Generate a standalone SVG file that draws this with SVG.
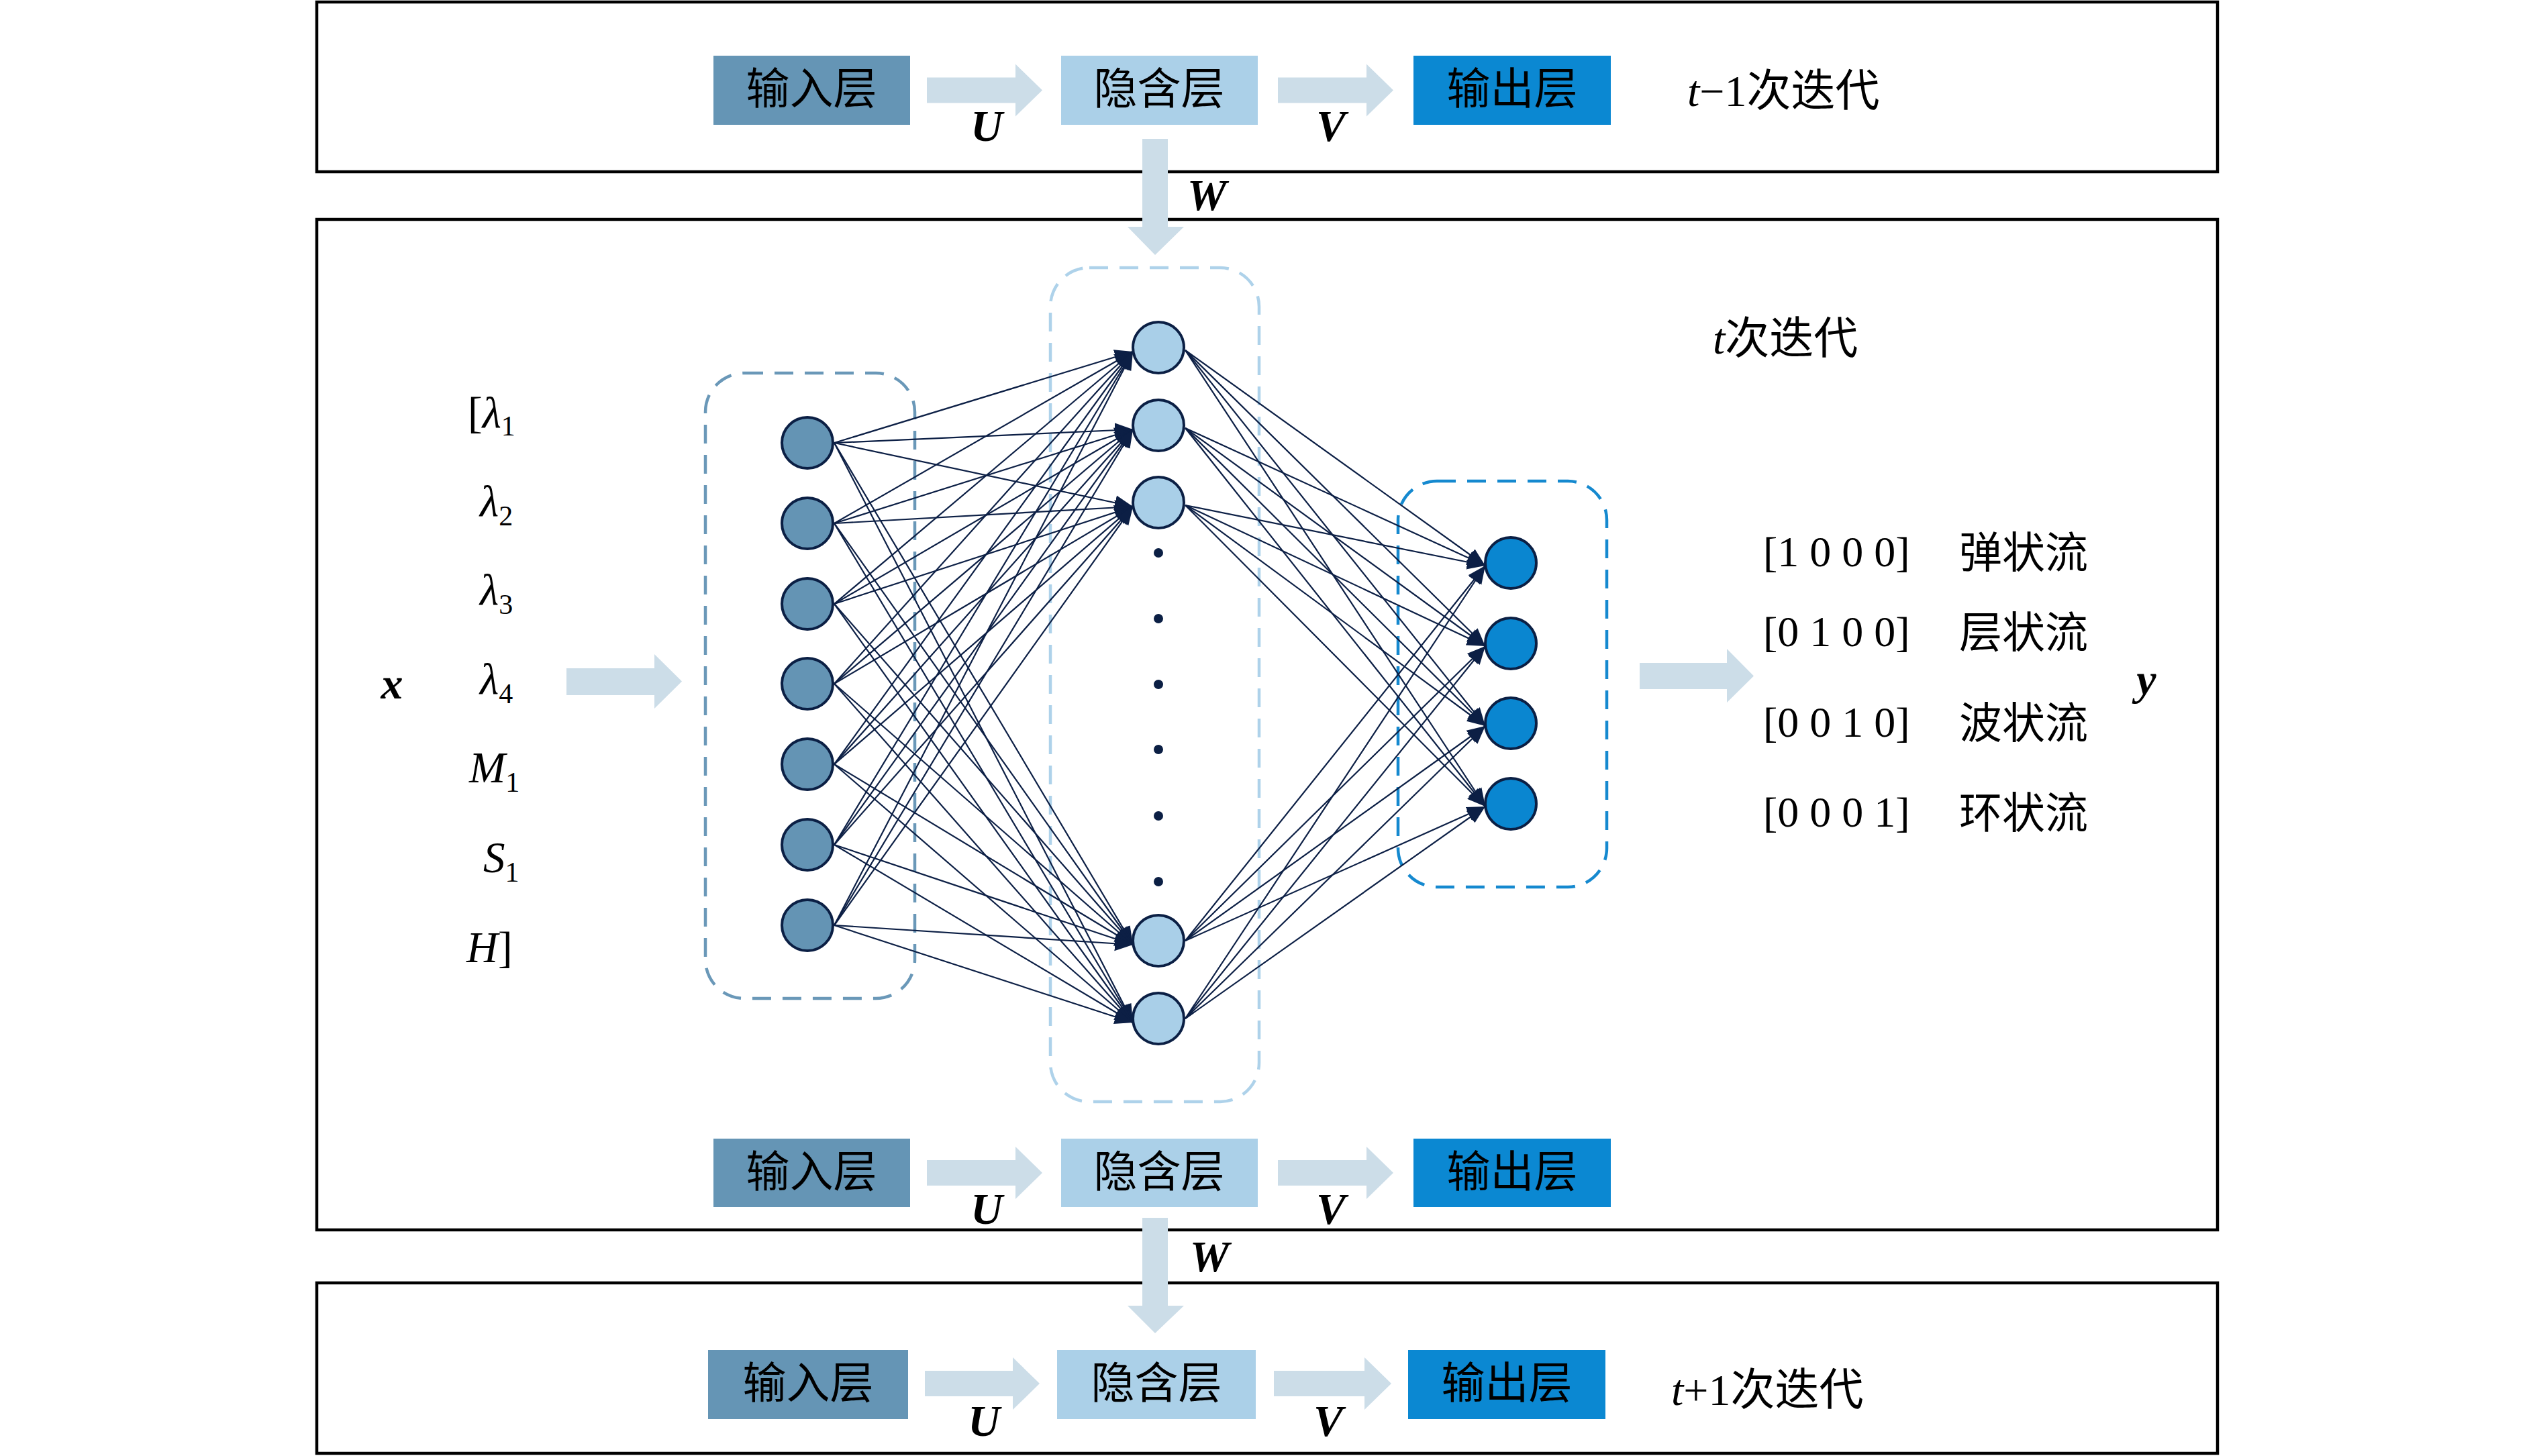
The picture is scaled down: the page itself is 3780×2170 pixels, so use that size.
<svg xmlns="http://www.w3.org/2000/svg" width="3780" height="2170" viewBox="0 0 3780 2170">
<defs>
<style>
.frame{fill:none;stroke:#000;stroke-width:4.5}
.lin{fill:#6595b5}
.lhid{fill:#abd0e8}
.lout{fill:#0b88d2}
.ltxt{font-family:"Liberation Serif","Noto Sans CJK SC",serif;font-size:65px;fill:#000;text-anchor:middle}
.blk{fill:#ccdde8}
.mat{font-family:"Liberation Serif",serif;font-size:66px;font-weight:bold;font-style:italic;fill:#000;text-anchor:middle}
.cap{font-family:"Liberation Serif","Noto Sans CJK SC",serif;font-size:66px;fill:#000}
.var{font-family:"Liberation Serif",serif;font-size:65px;font-style:italic;fill:#000}
.sub{font-style:normal;font-size:42px}
.cin{fill:#6494b4;stroke:#0b1f44;stroke-width:4}
.chid{fill:#a9cfe8;stroke:#0b1f44;stroke-width:4}
.cout{fill:#0a86d0;stroke:#0b1f44;stroke-width:4}
.dot{fill:#0b1f44}
.conn line{stroke:#0c1f45;stroke-width:2.2;marker-end:url(#ah)}
.dash{fill:none;stroke-width:4.5;stroke-dasharray:28 17}
.cls{font-family:"Liberation Serif","Noto Sans CJK SC",serif;font-size:64px;fill:#000}
</style>
<marker id="ah" markerUnits="userSpaceOnUse" markerWidth="28" markerHeight="24" viewBox="0 0 28 24" refX="27" refY="12" orient="auto">
<path d="M0,1 L27,12 L0,23 z" fill="#0c1f45"/>
</marker>
</defs>
<rect width="3780" height="2170" fill="#fff"/>

<!-- frames -->
<g id="frame-t-1"><rect class="frame" x="472" y="3" width="2832" height="253"/></g>
<g id="frame-t"><rect class="frame" x="472" y="327" width="2832" height="1506"/></g>
<g id="frame-t+1"><rect class="frame" x="472" y="1912" width="2832" height="254"/></g>

<!-- top row (t-1) -->
<g id="top-input"><rect class="lin" x="1063" y="83" width="293" height="103"/><text class="ltxt" x="1209" y="155">输入层</text></g>
<g id="top-hidden"><rect class="lhid" x="1581" y="83" width="293" height="103"/><text class="ltxt" x="1727" y="155">隐含层</text></g>
<g id="top-output"><rect class="lout" x="2106" y="83" width="294" height="103"/><text class="ltxt" x="2253" y="155">输出层</text></g>
<text class="cap" x="2514" y="158"><tspan font-style="italic">t</tspan>−1次迭代</text>

<!-- middle row (t) -->
<g id="mid-input"><rect class="lin" x="1063" y="1697" width="293" height="102"/><text class="ltxt" x="1209" y="1769">输入层</text></g>
<g id="mid-hidden"><rect class="lhid" x="1581" y="1697" width="293" height="102"/><text class="ltxt" x="1727" y="1769">隐含层</text></g>
<g id="mid-output"><rect class="lout" x="2106" y="1697" width="294" height="102"/><text class="ltxt" x="2253" y="1769">输出层</text></g>
<text class="cap" x="2552" y="527"><tspan font-style="italic">t</tspan>次迭代</text>

<!-- bottom row (t+1) -->
<g id="bot-input"><rect class="lin" x="1055" y="2012" width="298" height="103"/><text class="ltxt" x="1204" y="2084">输入层</text></g>
<g id="bot-hidden"><rect class="lhid" x="1575" y="2012" width="296" height="103"/><text class="ltxt" x="1723" y="2084">隐含层</text></g>
<g id="bot-output"><rect class="lout" x="2098" y="2012" width="294" height="103"/><text class="ltxt" x="2245" y="2084">输出层</text></g>
<text class="cap" x="2490" y="2094"><tspan font-style="italic">t</tspan>+1次迭代</text>

<!-- block arrows -->
<g id="block-arrows">
<polygon class="blk" points="1381,115.5 1513,115.5 1513,95.5 1553,134.5 1513,173.5 1513,153.5 1381,153.5"/>
<polygon class="blk" points="1904,115.5 2036,115.5 2036,95.5 2076,134.5 2036,173.5 2036,153.5 1904,153.5"/>
<polygon class="blk" points="1381,1729 1513,1729 1513,1709 1553,1748 1513,1787 1513,1767 1381,1767"/>
<polygon class="blk" points="1904,1729 2036,1729 2036,1709 2076,1748 2036,1787 2036,1767 1904,1767"/>
<polygon class="blk" points="1378,2043 1509,2043 1509,2023 1549,2062 1509,2101 1509,2081 1378,2081"/>
<polygon class="blk" points="1898,2043 2033,2043 2033,2023 2073,2062 2033,2101 2033,2081 1898,2081"/>
<polygon class="blk" points="1702,207 1740,207 1740,338 1764,338 1721,380 1680,338 1702,338"/>
<polygon class="blk" points="1702,1815 1740,1815 1740,1946 1764,1946 1721,1987 1680,1946 1702,1946"/>
<polygon class="blk" points="844,996 975,996 975,975 1016,1015.5 975,1056 975,1036 844,1036"/>
<polygon class="blk" points="2443,988 2573,988 2573,967 2613,1007.5 2573,1047 2573,1027 2443,1027"/>
</g>
<g id="matrix-labels">
<text class="mat" x="1470" y="210">U</text>
<text class="mat" x="1983" y="210">V</text>
<text class="mat" x="1798" y="313">W</text>
<text class="mat" x="1470" y="1824">U</text>
<text class="mat" x="1983" y="1824">V</text>
<text class="mat" x="1802" y="1895">W</text>
<text class="mat" x="1466" y="2140">U</text>
<text class="mat" x="1979" y="2140">V</text>
</g>

<!-- dashed layer groups -->
<rect class="dash" x="1051" y="556" width="312" height="932" rx="58" stroke="#6a98b8"/>
<rect class="dash" x="1565" y="399" width="311" height="1243" rx="58" stroke="#aed2ea"/>
<rect class="dash" x="2083" y="717" width="311" height="605" rx="58" stroke="#1589cf"/>

<!-- connectors -->
<g id="connectors" class="conn">
<line x1="1243" y1="660" x2="1688" y2="524"/><line x1="1243" y1="660" x2="1688" y2="640"/><line x1="1243" y1="660" x2="1688" y2="755"/><line x1="1243" y1="660" x2="1688" y2="1408"/><line x1="1243" y1="660" x2="1688" y2="1524"/>
<line x1="1243" y1="780" x2="1688" y2="524"/><line x1="1243" y1="780" x2="1688" y2="640"/><line x1="1243" y1="780" x2="1688" y2="755"/><line x1="1243" y1="780" x2="1688" y2="1408"/><line x1="1243" y1="780" x2="1688" y2="1524"/>
<line x1="1243" y1="900" x2="1688" y2="524"/><line x1="1243" y1="900" x2="1688" y2="640"/><line x1="1243" y1="900" x2="1688" y2="755"/><line x1="1243" y1="900" x2="1688" y2="1408"/><line x1="1243" y1="900" x2="1688" y2="1524"/>
<line x1="1243" y1="1019" x2="1688" y2="524"/><line x1="1243" y1="1019" x2="1688" y2="640"/><line x1="1243" y1="1019" x2="1688" y2="755"/><line x1="1243" y1="1019" x2="1688" y2="1408"/><line x1="1243" y1="1019" x2="1688" y2="1524"/>
<line x1="1243" y1="1139" x2="1688" y2="524"/><line x1="1243" y1="1139" x2="1688" y2="640"/><line x1="1243" y1="1139" x2="1688" y2="755"/><line x1="1243" y1="1139" x2="1688" y2="1408"/><line x1="1243" y1="1139" x2="1688" y2="1524"/>
<line x1="1243" y1="1259" x2="1688" y2="524"/><line x1="1243" y1="1259" x2="1688" y2="640"/><line x1="1243" y1="1259" x2="1688" y2="755"/><line x1="1243" y1="1259" x2="1688" y2="1408"/><line x1="1243" y1="1259" x2="1688" y2="1524"/>
<line x1="1243" y1="1379" x2="1688" y2="524"/><line x1="1243" y1="1379" x2="1688" y2="640"/><line x1="1243" y1="1379" x2="1688" y2="755"/><line x1="1243" y1="1379" x2="1688" y2="1408"/><line x1="1243" y1="1379" x2="1688" y2="1524"/>
<line x1="1766" y1="522" x2="2213" y2="843"/><line x1="1766" y1="522" x2="2213" y2="963"/><line x1="1766" y1="522" x2="2213" y2="1082"/><line x1="1766" y1="522" x2="2213" y2="1202"/>
<line x1="1766" y1="638" x2="2213" y2="843"/><line x1="1766" y1="638" x2="2213" y2="963"/><line x1="1766" y1="638" x2="2213" y2="1082"/><line x1="1766" y1="638" x2="2213" y2="1202"/>
<line x1="1766" y1="753" x2="2213" y2="843"/><line x1="1766" y1="753" x2="2213" y2="963"/><line x1="1766" y1="753" x2="2213" y2="1082"/><line x1="1766" y1="753" x2="2213" y2="1202"/>
<line x1="1766" y1="1402" x2="2213" y2="843"/><line x1="1766" y1="1402" x2="2213" y2="963"/><line x1="1766" y1="1402" x2="2213" y2="1082"/><line x1="1766" y1="1402" x2="2213" y2="1202"/>
<line x1="1766" y1="1518" x2="2213" y2="843"/><line x1="1766" y1="1518" x2="2213" y2="963"/><line x1="1766" y1="1518" x2="2213" y2="1082"/><line x1="1766" y1="1518" x2="2213" y2="1202"/>
</g>

<!-- input neurons -->
<g id="input-neurons">
<circle class="cin" cx="1203" cy="660" r="38"/><circle class="cin" cx="1203" cy="780" r="38"/><circle class="cin" cx="1203" cy="900" r="38"/><circle class="cin" cx="1203" cy="1019" r="38"/><circle class="cin" cx="1203" cy="1139" r="38"/><circle class="cin" cx="1203" cy="1259" r="38"/><circle class="cin" cx="1203" cy="1379" r="38"/>
</g>
<g id="hidden-neurons">
<circle class="chid" cx="1726" cy="518" r="38"/><circle class="chid" cx="1726" cy="634" r="38"/><circle class="chid" cx="1726" cy="749" r="38"/><circle class="chid" cx="1726" cy="1402" r="38"/><circle class="chid" cx="1726" cy="1518" r="38"/>
<circle class="dot" cx="1726" cy="824" r="7"/><circle class="dot" cx="1726" cy="922" r="7"/><circle class="dot" cx="1726" cy="1020" r="7"/><circle class="dot" cx="1726" cy="1117" r="7"/><circle class="dot" cx="1726" cy="1216" r="7"/><circle class="dot" cx="1726" cy="1314" r="7"/>
</g>
<g id="output-neurons">
<circle class="cout" cx="2251" cy="839" r="38"/><circle class="cout" cx="2251" cy="959" r="38"/><circle class="cout" cx="2251" cy="1078" r="38"/><circle class="cout" cx="2251" cy="1198" r="38"/>
</g>

<!-- input vector -->
<g id="input-vector">
<text class="mat" x="584" y="1041" font-size="70">x</text>
<text class="var" x="697" y="637"><tspan font-style="normal">[</tspan>λ<tspan class="sub" dy="12">1</tspan></text>
<text class="var" x="715" y="769">λ<tspan class="sub" dy="14">2</tspan></text>
<text class="var" x="715" y="901">λ<tspan class="sub" dy="14">3</tspan></text>
<text class="var" x="715" y="1034">λ<tspan class="sub" dy="14">4</tspan></text>
<text class="var" x="699" y="1166">M<tspan class="sub" dy="14">1</tspan></text>
<text class="var" x="720" y="1300">S<tspan class="sub" dy="14">1</tspan></text>
<text class="var" x="695" y="1434">H<tspan font-style="normal">]</tspan></text>
</g>

<!-- output classes -->
<g id="output-classes">
<text class="cls" x="2627" y="844">[1 0 0 0]</text><text class="cls" x="2919" y="846">弹状流</text>
<text class="cls" x="2627" y="963">[0 1 0 0]</text><text class="cls" x="2919" y="965">层状流</text>
<text class="cls" x="2627" y="1098">[0 0 1 0]</text><text class="cls" x="2919" y="1100">波状流</text>
<text class="cls" x="2627" y="1232">[0 0 0 1]</text><text class="cls" x="2919" y="1234">环状流</text>
<text class="mat" x="3198" y="1035" font-size="70">y</text>
</g>
</svg>
